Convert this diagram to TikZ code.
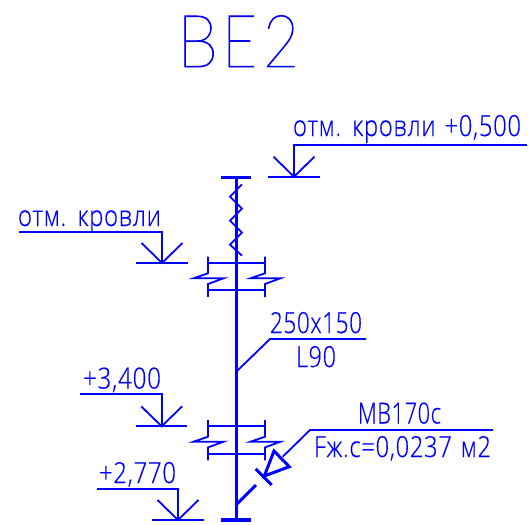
\documentclass[tikz,border=0pt]{standalone}
\usepackage{fontspec}
\usepackage{graphicx}
\newfontfamily\lblfont[LetterSpace=3,WordSpace=1.3,FakeBold=0.5]{Open Sans Light}
\newfontfamily\thinfont[FakeBold=1.2]{Lato Hairline}
\definecolor{cadblue}{RGB}{0,0,255}
\newcommand{\fitw}[2]{\resizebox{#1pt}{\height}{#2}}
\tikzset{
  thinline/.style={draw=cadblue,line width=1.8pt},
  heavyline/.style={draw=cadblue,line width=3pt},
  capline/.style={draw=cadblue,line width=4pt},
  lbl/.style={text=cadblue,anchor=base west,inner sep=0pt,outer sep=0pt,font=\lblfont\fontsize{29}{29}\selectfont},
  ttl/.style={text=cadblue,anchor=base west,inner sep=0pt,outer sep=0pt,font=\thinfont\fontsize{73}{73}\selectfont}
}
\newcommand{\levelmark}[4]{% x, ybase, y leader, far x of leader
  \draw[thinline] (#4,#3) -- (#1,#3) -- (#1,#2);
  \draw[thinline] (#1-20.5,#2-20) -- (#1,#2) -- (#1+20.5,#2-20);
  \draw[thinline] (#1-26,#2) -- (#1+25.5,#2);
}
\newcommand{\flange}[1]{%
  \begin{scope}[yshift=-#1pt]
  \draw[thinline] (208,262.7) -- (265,262.7);
  \draw[thinline] (208,290.3) -- (265,290.3);
  \draw[thinline,line join=miter] (208,256.7) -- (208,273.3) -- (193.5,278.3) -- (223.5,278.3) -- (208,284) -- (208,297);
  \draw[thinline,line join=miter] (265,256.7) -- (265,273.3) -- (250.5,278.3) -- (280.5,278.3) -- (265,284) -- (265,297);
  \end{scope}
}
\begin{document}
\begin{tikzpicture}[x=1pt,y=-1pt]
\useasboundingbox (0,0) rectangle (529,524);
% title
\node[ttl] (titleB) at (177,67) {\fitw{41}{B}};
\node[ttl] (titleE) at (222,67) {\fitw{35}{E}};
\node[ttl] (title2) at (263,67) {\fitw{36}{2}};
% main riser
\draw[heavyline] (236,177) -- (236,520);
\draw[heavyline] (221,177) -- (251,177);
\draw[capline] (221,520) -- (251,520);
% zigzag
\draw[thinline] (242,184.3) -- (230,196.7) -- (242,208.7) -- (230,220.7) -- (242,232.7) -- (230,244.7) -- (242,255.7);
% flanges
\flange{0}
\flange{163.4}
% branch leader
\draw[thinline] (236,372) -- (270,339) -- (366,339);
\node[lbl] (size) at (270,333) {\fitw{92}{250x150}};
\node[lbl] (len) at (296,367) {\fitw{40}{L90}};
% valve
\draw[heavyline] (236,505) -- (256,485);
\draw[heavyline] (255.7,469) -- (271.7,485);
\draw[heavyline,line join=miter] (264.3,476) -- (274,451) -- (289.3,466.7) -- cycle;
\draw[thinline] (282.7,456.7) -- (310,430) -- (493,430);
\node[lbl] (valve) at (358,423.5) {\fitw{83}{МВ170с}};
\node[lbl] (area) at (314,457) {\fitw{177}{Fж.с=0,0237 м2}};
% levels
\levelmark{294}{176.7}{145}{527}
\node[lbl] (l1) at (293,136) {\fitw{228}{отм. кровли +0,500}};
\levelmark{162}{263}{232}{19}
\node[lbl] (l2) at (18,226) {\fitw{143}{отм. кровли}};
\levelmark{161.7}{426.3}{394.3}{80}
\node[lbl] (l3) at (83,388.5) {\fitw{78}{+3,400}};
\levelmark{178}{520}{488.7}{97}
\node[lbl] (l4) at (99,483) {\fitw{77}{+2,770}};
\end{tikzpicture}
\end{document}
